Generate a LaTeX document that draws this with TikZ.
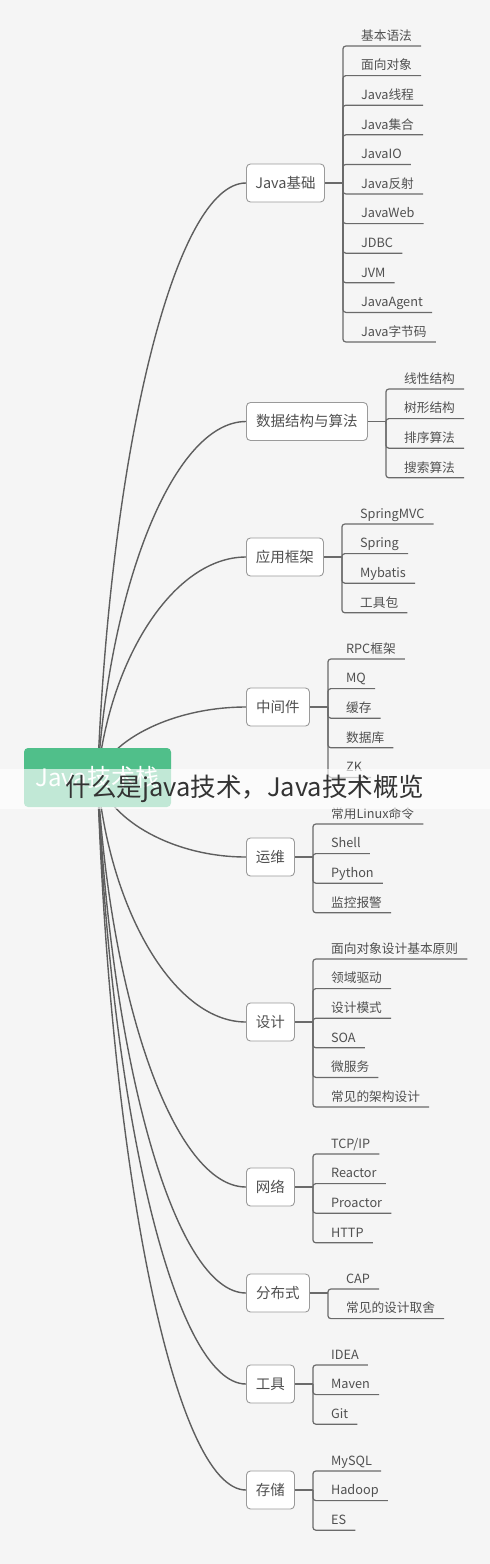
\documentclass[tikz,border=0pt]{standalone}
\usepackage{fontspec}
\setmainfont{Noto Sans CJK SC}
\usetikzlibrary{calc}
\pgfdeclarelayer{back}
\pgfdeclarelayer{edges}
\pgfsetlayers{back,edges,main}
\definecolor{bgc}{HTML}{F5F5F5}
\definecolor{curvec}{HTML}{5E5E5E}
\definecolor{linec}{HTML}{6A6A6A}
\definecolor{boxc}{HTML}{9A9A9A}
\definecolor{txtc}{HTML}{505050}
\definecolor{rootc}{HTML}{50BF8A}
\definecolor{banc}{HTML}{333333}
\newcommand\mmbranch[6]{%
  \node[topic, minimum width=#3] (#1) at (246,#2) {#4};
  \coordinate (#1j) at ([xshift=18pt]#1.east);
  \begin{pgfonlayer}{edges}
    \draw[curve] let \p1=(root.center), \p2=(#1.west) in
      (\p1) .. controls ({\x1+0.085*(\x2-\x1)},{\y1+0.55*(\y2-\y1)})
      and ({\x1+0.52*(\x2-\x1)},\y2) .. (\p2);
  \end{pgfonlayer}
  \draw[elbow] (#1.east) -- (#1j);
  \foreach \txt [count=\k from 0] in {#6} {
    \node[leaf] (#1-\k) at ($(#1j)+(9,{#5-#2+29.6*\k})$) {\txt};
    \draw[elbow] (#1j) |- (#1-\k.south east);
  }
}
\begin{document}
\begin{tikzpicture}[x=1pt,y=-1pt,
  topic/.style={draw=boxc, line width=0.9pt, fill=white, rounded corners=4pt,
    minimum height=38pt, inner xsep=6pt, text height=12pt, text depth=2pt,
    font=\fontsize{14.5}{16}\selectfont, text=txtc, anchor=west},
  leaf/.style={anchor=south west, inner xsep=9pt, inner ysep=2.5pt,
    text height=10pt, text depth=3pt, font=\fontsize{12.7}{15}\selectfont, text=txtc},
  curve/.style={draw=curvec, line width=1.4pt},
  elbow/.style={draw=linec, line width=1.2pt, rounded corners=3pt},
  rootbox/.style={fill=rootc, rounded corners=4pt, minimum width=147pt,
    minimum height=59pt, inner sep=0pt, text=white, font=\fontsize{24}{28}\selectfont},
  banner/.style={fill=white, fill opacity=0.65, text opacity=1, minimum width=490pt,
    minimum height=40pt, inner sep=0pt, text=banc, font=\fontsize{25.5}{30}\selectfont}
]
\begin{pgfonlayer}{back}
  \fill[bgc] (0,0) rectangle (490,1564);
\end{pgfonlayer}
\useasboundingbox (0,0) rectangle (490,1564);

\node[rootbox] (root) at (97.5,777.5) {Java技术栈};

\mmbranch{ta}{183}{78pt}{Java基础}{46}{基本语法,面向对象,Java线程,Java集合,JavaIO,Java反射,JavaWeb,JDBC,JVM,JavaAgent,Java字节码}
\mmbranch{tb}{421.5}{121pt}{数据结构与算法}{389}{线性结构,树形结构,排序算法,搜索算法}
\mmbranch{tc}{557}{77pt}{应用框架}{524}{SpringMVC,Spring,Mybatis,工具包}
\mmbranch{td}{707}{63pt}{中间件}{659}{RPC框架,MQ,缓存,数据库,ZK}
\mmbranch{te}{857}{48pt}{运维}{824}{常用Linux命令,Shell,Python,监控报警}
\mmbranch{tf}{1022}{48pt}{设计}{959}{面向对象设计基本原则,领域驱动,设计模式,SOA,微服务,常见的架构设计}
\mmbranch{tg}{1187}{48pt}{网络}{1154}{TCP/IP,Reactor,Proactor,HTTP}
\mmbranch{th}{1293}{63pt}{分布式}{1289}{CAP,常见的设计取舍}
\mmbranch{ti}{1384}{48pt}{工具}{1365}{IDEA,Maven,Git}
\mmbranch{tj}{1490}{48pt}{存储}{1471}{MySQL,Hadoop,ES}

\node[banner] (ban) at (245,789) {什么是java技术，Java技术概览};
\end{tikzpicture}
\end{document}
